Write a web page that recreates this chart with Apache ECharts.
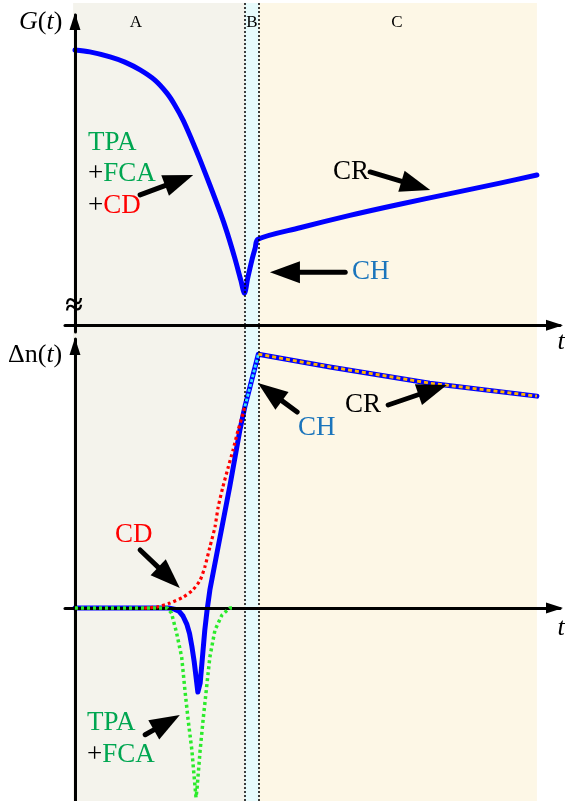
<!DOCTYPE html>
<html>
<head>
<meta charset="utf-8">
<script src="https://cdn.jsdelivr.net/npm/echarts@6/dist/echarts.min.js"></script>
<style>
  html, body { margin: 0; padding: 0; background: #fff; }
  #chart { width: 565px; height: 801px; }
</style>
</head>
<body>
<div id="chart"></div>
<script>
// Time axis shared by both panels (arbitrary units)
const regionEdges = [-0.4, 36.8, 39.8, 100];   // A | B | C boundaries
const regionNames = ['A', 'B', 'C'];

// Upper panel: G(t)
const gT = [0, 3.2, 7.6, 10.8, 14.1, 17.3, 19.9, 21.6, 23.4, 25.3, 27.1, 29.2, 31.4, 32.9, 34.6, 35.9, 36.7, 37.4, 38.3, 39.0, 39.6, 48.7, 59.5, 70.3, 81.2, 92.0, 100];
const gV = [88.7, 88.1, 86.5, 84.8, 82.3, 79.0, 74.8, 71.0, 66.1, 59.7, 53.2, 45.2, 36.5, 30.0, 21.6, 14.5, 10.3, 15.2, 21.0, 24.8, 27.7, 31.4, 35.4, 39.0, 42.4, 45.8, 48.4];

// Lower panel: total carrier density Δn(t)
const nT = [0, 19.5, 20.5, 21.5, 22.5, 23.4, 24.2, 24.8, 25.3, 25.8, 26.2, 26.6, 27.1, 27.6, 28.1, 28.6, 29.2, 31.0, 33.5, 35.7, 36.8, 37.9, 39.7, 55.2, 76.8, 100];
const nV = [0, 0, 0, -0.4, -1.2, -3.2, -6.3, -10, -15, -21, -27, -33.1, -29.6, -19.3, -8.7, -0.8, 7.1, 24.2, 47.8, 70.1, 79.5, 87.2, 100, 95, 88.6, 83.5];

// Cavity-heating part (region B) and carrier-recovery part (region C)
const chT = [36.8, 37.9, 39.7];
const chV = [79.5, 87.2, 100];
const crT = [39.7, 55.2, 76.8, 100];
const crV = [100, 95, 88.6, 83.5];

// Carrier depletion contribution
const cdT = [15.0, 17.7, 20.6, 23.4, 25.5, 27.1, 28.1, 29.2, 30.3, 31.0, 32.0, 33.1, 34.2, 35.3, 36.4, 36.8];
const cdV = [0, 0.4, 2, 4.3, 7.1, 11, 16.1, 24, 31.9, 39.8, 47.6, 55, 62.2, 70, 76.8, 79.9];

// Two-photon + free-carrier absorption contribution
const tpT = [0, 20.0, 20.9, 22.0, 23.1, 23.8, 24.5, 25.3, 25.8, 26.2, 26.4, 27.1, 27.8, 28.5, 29.2, 30.3, 31.8, 33.5, 34.2];
const tpV = [0, 0, -2, -9.8, -19.3, -32.3, -44.1, -55.9, -66.5, -74.6, -71.7, -55.9, -42.9, -31.1, -19.3, -8.7, -2.8, 0, 0];

const zip = (a, b) => a.map((x, i) => [x, b[i]]);

const SERIF = '"Liberation Serif", "Times New Roman", serif';
const GREEN_TXT = '#00A651';
const BLUE_TXT = '#1B75BC';
const FS = 27;

const chart = echarts.init(document.getElementById('chart'), null, { renderer: 'canvas' });

const axisArrow = (offset) => ({
  show: true,
  onZero: true,
  symbol: ['none', 'triangle'],
  symbolSize: [11, 17],
  symbolOffset: [0, offset],
  lineStyle: { color: '#000', width: 3 }
});

const plainAxis = (extra) => Object.assign({
  type: 'value',
  z: 5,
  axisTick: { show: false },
  axisLabel: { show: false },
  splitLine: { show: false }
}, extra);

const regionColors = ['#F4F3EC', '#E7FBFC', '#FDF7E6'];

const option = {
  animation: false,
  backgroundColor: '#ffffff',
  grid: [
    { left: 65, right: 5, top: 3, bottom: 0 },       // background bands
    { left: 65, right: 5, top: 15, bottom: 469 },    // G(t)
    { left: 65, right: 5, top: 339, bottom: 0 }      // Δn(t)
  ],
  xAxis: [
    plainAxis({ gridIndex: 0, min: -2.16, max: 105, show: false }),
    plainAxis({ gridIndex: 1, min: -2.16, max: 105, axisLine: axisArrow(-5.5) }),
    plainAxis({ gridIndex: 2, min: -2.16, max: 105, axisLine: axisArrow(-5.5) })
  ],
  yAxis: [
    plainAxis({ gridIndex: 0, min: 0, max: 1, show: false }),
    plainAxis({ gridIndex: 1, min: -2.2, max: 100, axisLine: axisArrow(-6.5) }),
    plainAxis({ gridIndex: 2, min: -76, max: 106, axisLine: axisArrow(-7.5) })
  ],
  series: [
    {
      type: 'line',
      xAxisIndex: 0, yAxisIndex: 0,
      data: [],
      silent: true,
      z: 0,
      markArea: {
        silent: true,
        data: regionNames.map((n, i) => [
          { xAxis: regionEdges[i], itemStyle: { color: regionColors[i] } },
          { xAxis: regionEdges[i + 1] }
        ])
      },
      markLine: {
        silent: true,
        symbol: ['none', 'none'],
        label: { show: false },
        lineStyle: { color: '#000', width: 1.5, type: [2, 2] },
        data: [{ xAxis: regionEdges[1] }, { xAxis: regionEdges[2] }]
      }
    },
    {
      name: 'G',
      type: 'line',
      xAxisIndex: 1, yAxisIndex: 1,
      data: zip(gT, gV),
      showSymbol: false,
      smooth: 0.3,
      lineStyle: { color: '#0000FF', width: 5, join: 'round', cap: 'round' },
      z: 4
    },
    {
      name: 'Δn',
      type: 'line',
      xAxisIndex: 2, yAxisIndex: 2,
      data: zip(nT, nV),
      showSymbol: false,
      lineStyle: { color: '#0000FF', width: 5, join: 'round', cap: 'round' },
      z: 4
    },
    {
      name: 'CD',
      type: 'line',
      xAxisIndex: 2, yAxisIndex: 2,
      data: zip(cdT, cdV),
      showSymbol: false,
      smooth: 0.2,
      lineStyle: { color: '#FF0000', width: 3.2, type: [3, 3] },
      z: 6
    },
    {
      name: 'TPA+FCA',
      type: 'line',
      xAxisIndex: 2, yAxisIndex: 2,
      data: zip(tpT, tpV),
      showSymbol: false,
      lineStyle: { color: '#2BEB2B', width: 3.5, type: [3, 3] },
      z: 7
    },
    {
      name: 'CH',
      type: 'line',
      xAxisIndex: 2, yAxisIndex: 2,
      data: zip(chT, chV),
      showSymbol: false,
      lineStyle: { color: '#33DDFF', width: 2.8, type: [3, 2] },
      z: 8
    },
    {
      name: 'CR',
      type: 'line',
      xAxisIndex: 2, yAxisIndex: 2,
      data: zip(crT, crV),
      showSymbol: false,
      lineStyle: { color: '#FFB400', width: 2.8, type: [4, 3] },
      z: 8
    }
  ]
};

chart.setOption(option);

// Annotation arrows, given in each panel's data coordinates
const arrows = [
  { grid: 1, from: [14.1, 42.0], to: [25.6, 48.4] },
  { grid: 1, from: [58.5, 17.1], to: [42.2, 17.1] },
  { grid: 1, from: [63.9, 49.4], to: [76.9, 43.6] },
  { grid: 2, from: [48.1, 77.2], to: [39.6, 88.7] },
  { grid: 2, from: [67.8, 80.0], to: [80.5, 87.9] },
  { grid: 2, from: [14.1, 22.9], to: [22.7, 7.9] },
  { grid: 2, from: [15.2, -49.9], to: [22.7, -42.1] }
];

function arrowShapes(a) {
  const p0 = chart.convertToPixel({ gridIndex: a.grid }, a.from);
  const p1 = chart.convertToPixel({ gridIndex: a.grid }, a.to);
  const dx = p1[0] - p0[0], dy = p1[1] - p0[1];
  const len = Math.sqrt(dx * dx + dy * dy);
  const ux = dx / len, uy = dy / len;
  const headL = 30, headW = 22;
  const bx = p1[0] - ux * headL, by = p1[1] - uy * headL;
  const nx = -uy, ny = ux;
  return [
    {
      type: 'line',
      shape: { x1: p0[0], y1: p0[1], x2: bx + ux * 2, y2: by + uy * 2 },
      style: { stroke: '#000', lineWidth: 5, lineCap: 'round' },
      z: 20
    },
    {
      type: 'polygon',
      shape: { points: [[p1[0], p1[1]], [bx + nx * headW / 2, by + ny * headW / 2], [bx - nx * headW / 2, by - ny * headW / 2]] },
      style: { fill: '#000' },
      z: 20
    }
  ];
}

const txt = (x, y, text, opts) => ({
  type: 'text',
  x: x, y: y,
  z: 30,
  style: Object.assign({
    text: text,
    font: FS + 'px ' + SERIF,
    fill: '#000',
    align: 'left',
    verticalAlign: 'middle'
  }, opts || {})
});

const richTxt = (x, y, text, rich) => ({
  type: 'text',
  x: x, y: y,
  z: 30,
  style: {
    text: text,
    fontFamily: SERIF,
    fontSize: FS,
    fill: '#000',
    align: 'left',
    verticalAlign: 'middle',
    rich: rich
  }
});

const richDefs = {
  k: { fill: '#000', fontFamily: SERIF, fontSize: FS },
  g: { fill: GREEN_TXT, fontFamily: SERIF, fontSize: FS },
  r: { fill: '#FF0000', fontFamily: SERIF, fontSize: FS },
  i: { fill: '#000', fontFamily: SERIF, fontSize: 26, fontStyle: 'italic' },
  n: { fill: '#000', fontFamily: SERIF, fontSize: 26 }
};

const graphics = [];
arrows.forEach(a => arrowShapes(a).forEach(s => graphics.push(s)));

graphics.push(
  txt(136, 23, 'A', { font: '17px ' + SERIF, align: 'center' }),
  txt(252, 23, 'B', { font: '17px ' + SERIF, align: 'center' }),
  txt(397, 23, 'C', { font: '17px ' + SERIF, align: 'center' }),
  richTxt(19, 22, '{i|G}{n|(}{i|t}{n|)}', richDefs),
  richTxt(8, 355, '{n|Δn(}{i|t}{n|)}', richDefs),
  txt(561, 342, 't', { font: 'italic 26px ' + SERIF, align: 'center' }),
  txt(561, 628, 't', { font: 'italic 26px ' + SERIF, align: 'center' }),
  txt(74, 307, '≈', { font: 'bold 32px ' + SERIF, align: 'center' }),
  txt(88, 143, 'TPA', { fill: GREEN_TXT }),
  richTxt(88, 174, '{k|+}{g|FCA}', richDefs),
  richTxt(88, 206, '{k|+}{r|CD}', richDefs),
  txt(333, 172, 'CR'),
  txt(352, 272, 'CH', { fill: BLUE_TXT }),
  txt(298, 428, 'CH', { fill: BLUE_TXT }),
  txt(345, 405, 'CR'),
  txt(115, 535, 'CD', { fill: '#FF0000' }),
  txt(87, 723, 'TPA', { fill: GREEN_TXT }),
  richTxt(87, 755, '{k|+}{g|FCA}', richDefs)
);

chart.setOption({ graphic: graphics });
</script>
</body>
</html>
